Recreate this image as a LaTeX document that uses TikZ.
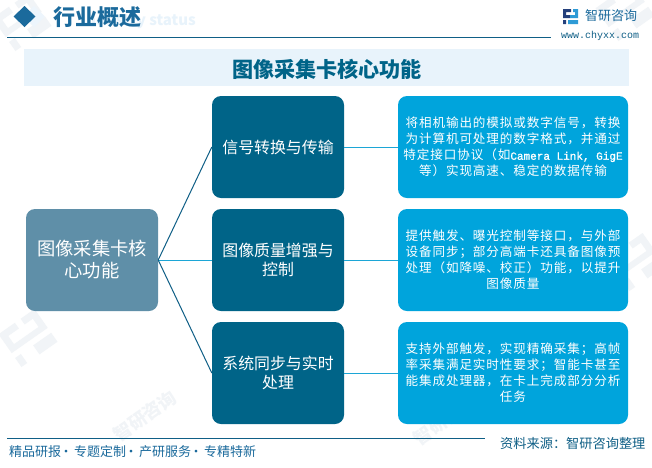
\documentclass[tikz,border=0pt]{standalone}
\usepackage{fontspec}
\setmainfont{Noto Sans CJK SC}
\newfontfamily\latinf{Liberation Mono}[FakeBold=1.2]
\newfontfamily\webf{Liberation Mono}
\newfontfamily\spaced{Noto Sans CJK SC}[LetterSpace=7]
\definecolor{rootc}{HTML}{5F8FA8}
\definecolor{midc}{HTML}{006488}
\definecolor{rightc}{HTML}{00A4DC}
\definecolor{bandc}{HTML}{E8F3FB}
\definecolor{headc}{HTML}{1B6A9C}
\definecolor{linec}{HTML}{0F5F86}
\definecolor{cyanl}{HTML}{1CA6D6}
\definecolor{markc}{HTML}{F1F4F7}
\definecolor{logoa}{HTML}{24407C}
\definecolor{logob}{HTML}{2E9BD6}
\tikzset{
  x=1pt,y=-1pt,
  cardbase/.style={rounded corners=9pt,minimum height=102pt,align=center,text=white,inner sep=0pt},
  rootbox/.style={cardbase,fill=rootc,minimum width=132pt,font=\fontsize{18.3}{22}\selectfont},
  midbox/.style={cardbase,fill=midc,minimum width=132pt,font=\fontsize{15.9}{19.5}\selectfont},
  infobox/.style={cardbase,fill=rightc,minimum width=230pt,font=\fontsize{12.6}{16}\spaced},
  trunk/.style={draw=linec,line width=1pt},
  twig/.style={draw=cyanl,line width=0.9pt},
  rulebar/.style={draw=linec,line width=1pt},
  wm/.style={text=markc,font=\fontsize{18}{18}\selectfont\bfseries,rotate=35,inner sep=0pt},
  wmlogo/.pic={
    \fill[markc,rotate=35] (-22,-20) rectangle (-2,-13) (-22,-20) rectangle (-15,3) (-22,-3) rectangle (0,3) (-22,9) rectangle (-15,20)
      (5,-20) rectangle (22,-13) (15,-20) rectangle (22,3) (-2,-3) rectangle (22,3) (0,9) rectangle (22,20);
  },
}
\begin{document}
\begin{tikzpicture}
\useasboundingbox (0,0) rectangle (652,467);
\fill[white] (0,0) rectangle (652,467);
% faint watermarks
\pic at (22,22) {wmlogo};
\pic at (28,338) {wmlogo};
\pic at (625,12) {wmlogo};
\pic at (636,262) {wmlogo};
\node[wm] (w1) at (145,416) {智研咨询};
\node[wm] (w2) at (445,420) {智研咨询};
% header
\fill[bandc!80!white] (34,6) -- (45,16.5) -- (34,27) -- (23,16.5) -- cycle;
\fill[headc] (24.5,6) -- (35.5,16.5) -- (24.5,27) -- (13.5,16.5) -- cycle;
\node[text=bandc,font=\fontsize{15}{15}\selectfont\bfseries,anchor=east,inner sep=0pt] (sub) at (196,21) {Industry status};
\node[text=headc,font=\fontsize{22}{22}\selectfont\bfseries,anchor=west,inner sep=0pt] (head) at (53,17) {行业概述};
\coordinate (ta) at (7,37.5); \coordinate (tb) at (551,37.5);
\draw[rulebar] (ta) -- (tb);
% logo
\fill[logoa] (563,9) rectangle (571,12) (563,9) rectangle (566,18) (563,15) rectangle (570,18) (563,20) rectangle (566,24);
\fill[logob] (573,9) rectangle (578,12) (575,9) rectangle (578,18) (570,15) rectangle (578,18) (568,20) rectangle (578,24);
\node[text=headc,font=\fontsize{13}{13}\selectfont,inner sep=0pt] (brand) at (611,16) {智研咨询};
\node[text=linec,font=\fontsize{10}{10}\webf,inner sep=0pt] (web) at (600,36) {www.chyxx.com};
% title band
\fill[bandc] (24,49) rectangle (629,86);
\node[text=midc,font=\fontsize{21.1}{21}\selectfont\bfseries,inner sep=0pt] (title) at (327,69) {图像采集卡核心功能};
% boxes
\node[rootbox] (root) at (92,260) {图像采集卡核\\心功能};
\node[midbox] (m1) at (278,147) {信号转换与传输};
\node[midbox] (m2) at (278,260) {图像质量增强与\\控制};
\node[midbox] (m3) at (278,373) {系统同步与实时\\处理};
\node[infobox] (r1) at (513,147) {将相机输出的模拟或数字信号，转换\\为计算机可处理的数字格式，并通过\\特定接口协议（如{\fontsize{11}{16}\latinf Camera Link, GigE}\\等）实现高速、稳定的数据传输};
\node[infobox] (r2) at (513,260) {提供触发、曝光控制等接口，与外部\\设备同步；部分高端卡还具备图像预\\处理（如降噪、校正）功能，以提升\\图像质量};
\node[infobox] (r3) at (513,373) {支持外部触发，实现精确采集；高帧\\率采集满足实时性要求；智能卡甚至\\能集成处理器，在卡上完成部分分析\\任务};
% connectors
\draw[trunk] (root.east) -- (m1.west);
\draw[twig] (root.east) -- (m2.west);
\draw[trunk] (root.east) -- (m3.west);
\draw[twig] (m1.east) -- (r1.west);
\draw[twig] (m2.east) -- (r2.west);
\draw[twig] (m3.east) -- (r3.west);
% footer
\coordinate (ba) at (7,438); \coordinate (bb) at (485,438);
\draw[rulebar] (ba) -- (bb);
\node[text=headc,font=\fontsize{13}{13}\selectfont,anchor=west,inner sep=0pt] (foot) at (9,452) {精品研报\hspace{-1.5pt}·\hspace{-1.5pt}\hspace{3pt}专题定制\hspace{-1.5pt}·\hspace{-1.5pt}\hspace{3pt}产研服务\hspace{-1.5pt}·\hspace{-1.5pt}\hspace{3pt}专精特新};
\node[text=linec,font=\fontsize{13.2}{13}\selectfont,anchor=west,inner sep=0pt] (src) at (500,444) {资料来源：智研咨询整理};
\end{tikzpicture}
\end{document}
